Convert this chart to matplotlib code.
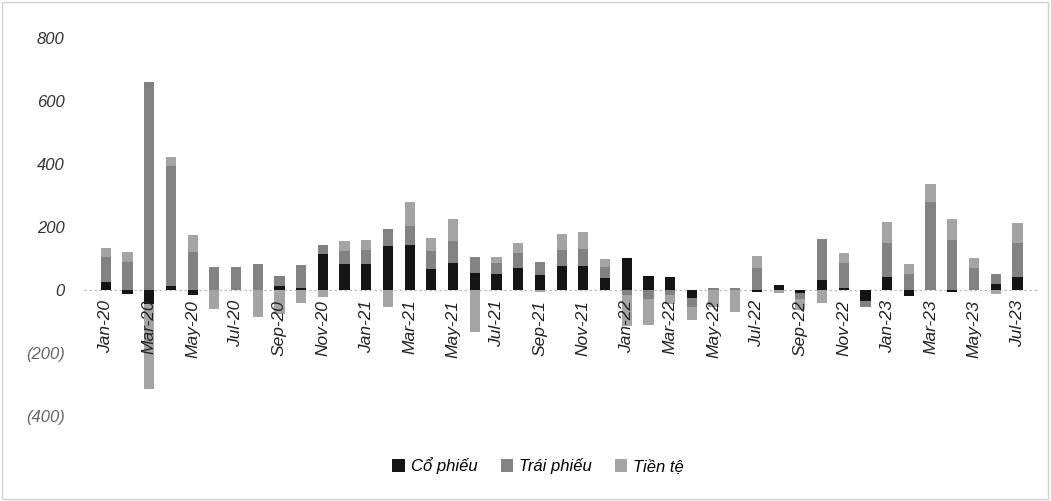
import matplotlib
matplotlib.use("Agg")
import matplotlib.pyplot as plt
from matplotlib import font_manager
import numpy as np

months = ["Jan-20", "Feb-20", "Mar-20", "Apr-20", "May-20", "Jun-20", "Jul-20", "Aug-20",
          "Sep-20", "Oct-20", "Nov-20", "Dec-20",
          "Jan-21", "Feb-21", "Mar-21", "Apr-21", "May-21", "Jun-21", "Jul-21", "Aug-21",
          "Sep-21", "Oct-21", "Nov-21", "Dec-21",
          "Jan-22", "Feb-22", "Mar-22", "Apr-22", "May-22", "Jun-22", "Jul-22", "Aug-22",
          "Sep-22", "Oct-22", "Nov-22", "Dec-22",
          "Jan-23", "Feb-23", "Mar-23", "Apr-23", "May-23", "Jun-23", "Jul-23"]

co_phieu = [26, -12, -45, 14, -16, 0, 0, 0, 12, 5, 114, 83,
            83, 138, 143, 65, 86, 54, 50, 71, 46, 76, 76, 37,
            102, 44, 40, -25, 0, 0, -8, 15, -10, 32, 5, -34,
            40, -19, 0, -6, 0, 20, 40]

trai_phieu = [80, 90, 662, 380, 120, 72, 72, 83, 33, 74, 29, 40,
              45, 56, 60, 60, 70, 52, 35, 45, 44, 50, 55, 35,
              -15, -30, -15, -30, 5, 5, 70, 0, -20, 130, 80, -21,
              110, 50, 280, 160, 70, 30, 110]

tien_te = [28, 32, -270, 28, 53, -62, 0, -86, -75, -40, -24, 31,
           31, -53, 75, 41, 70, -134, 21, 32, -8, 52, 54, 25,
           -100, -83, -30, -40, -53, -69, 39, -10, -33, -40, 31, 0,
           67, 31, 58, 65, 30, -12, 61]

series_names = ["Cổ phiếu", "Trái phiếu", "Tiền tệ"]
colors = ["#141414", "#828282", "#a4a4a4"]

y_ticks = [-400, -200, 0, 200, 400, 600, 800]
y_tick_labels = ["(400)", "(200)", "0", "200", "400", "600", "800"]

available = {f.name for f in font_manager.fontManager.ttflist}
fam = "Liberation Sans Narrow" if "Liberation Sans Narrow" in available else "Liberation Sans"
plt.rcParams["font.family"] = [fam, "DejaVu Sans"]

fig = plt.figure(figsize=(10.51, 5.01), dpi=100)
ax = fig.add_axes([0.08, 0.17, 0.9087, 0.754])

x = np.arange(len(months))
pos_bottom = np.zeros(len(months))
neg_bottom = np.zeros(len(months))
width = 0.47
for name, vals, col in zip(series_names, [co_phieu, trai_phieu, tien_te], colors):
    v = np.array(vals, dtype=float)
    pos = np.where(v > 0, v, 0)
    neg = np.where(v < 0, v, 0)
    ax.bar(x, pos, width, bottom=pos_bottom, color=col, label=name, zorder=3)
    ax.bar(x, neg, width, bottom=neg_bottom, color=col, zorder=3)
    pos_bottom += pos
    neg_bottom += neg

ax.axhline(0, color="#bdbdbd", lw=0.9, ls=(0, (2, 2)), zorder=2)

ax.set_xlim(-1, len(months))
ax.set_ylim(-400, 800)
ax.set_yticks(y_ticks)
ax.set_yticklabels(y_tick_labels, fontsize=12, style="italic")
for lbl, t in zip(ax.get_yticklabels(), y_ticks):
    lbl.set_color("#666666" if t < 0 else "#333333")
ax.tick_params(axis="y", length=0, pad=14)
ax.set_xticks([])
for s in ax.spines.values():
    s.set_visible(False)

for i, m in enumerate(months):
    if i % 2 == 0:
        ax.annotate(m, xy=(i, 0), xytext=(0, -7), textcoords="offset points",
                    rotation=90, ha="center", va="top", fontsize=12.5,
                    style="italic", color="#222222", zorder=4)

fig.legend(loc="center", bbox_to_anchor=(0.512, 0.07), ncol=3, frameon=False,
           prop={"size": 12, "style": "italic"}, handlelength=0.75, handleheight=0.75,
           handletextpad=0.35, columnspacing=1.4)

fig.patches.append(plt.Rectangle((0.002, 0.004), 0.995, 0.992, transform=fig.transFigure,
                                 fill=False, edgecolor="#d0d0d0", lw=1.0))

fig.savefig("out.png", dpi=100, facecolor="white")
